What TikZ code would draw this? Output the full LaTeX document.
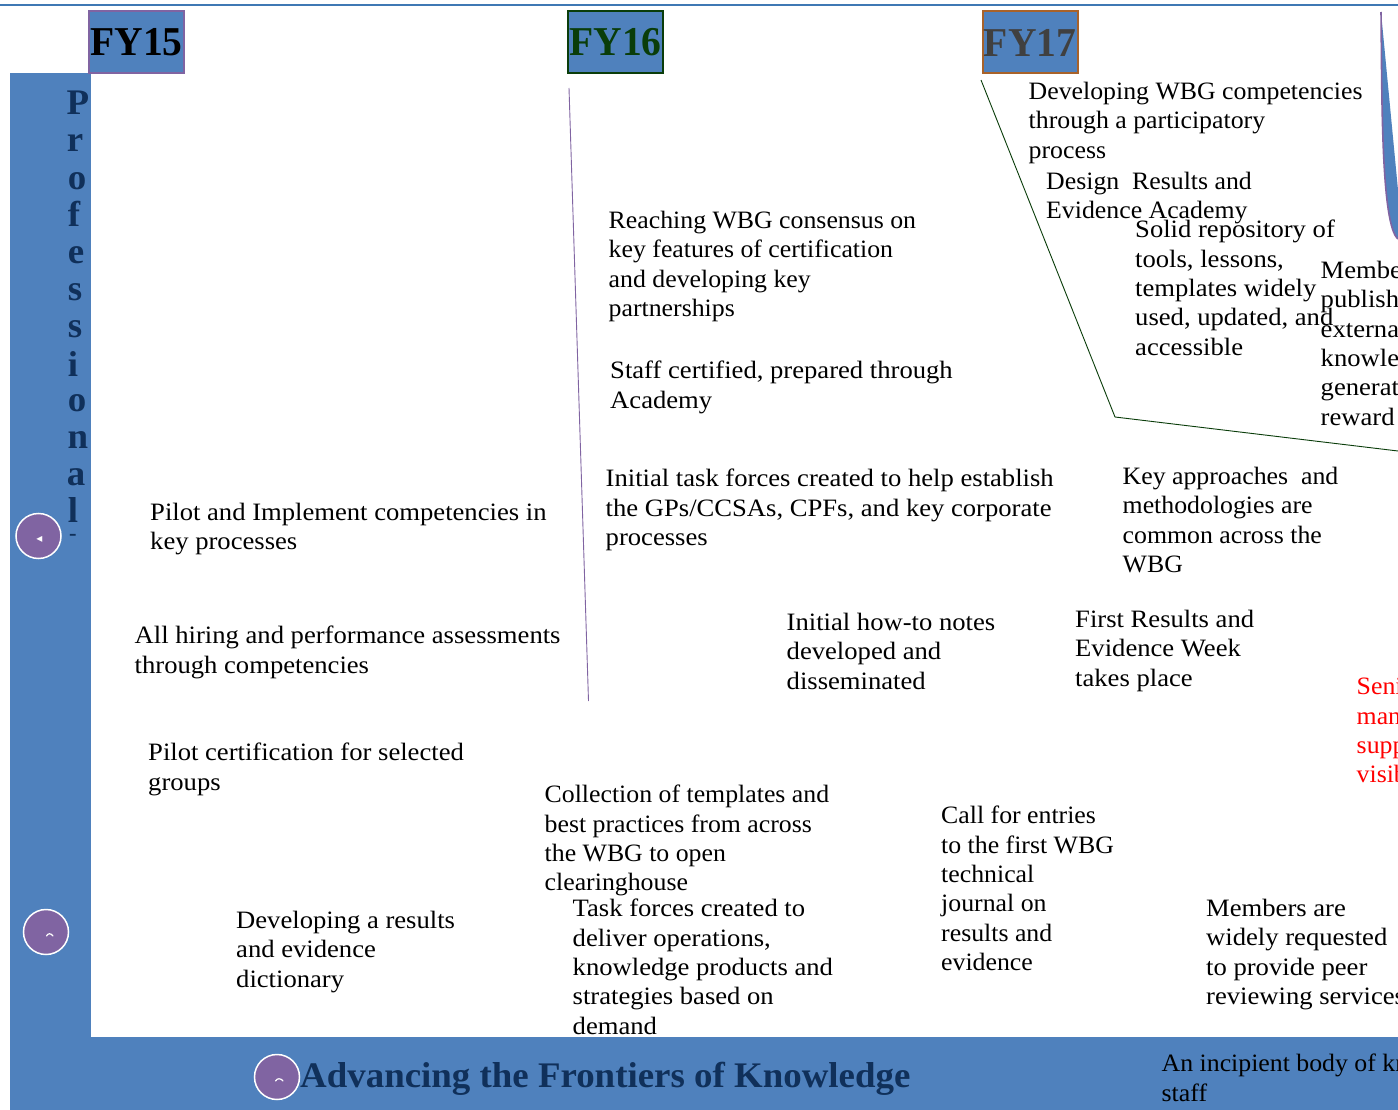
\documentclass[tikz,border=0pt]{standalone}
\usepackage{fontspec}
\setmainfont[FakeStretch=1.065]{Liberation Serif}
\newfontfamily\headfont[FakeStretch=0.965]{Liberation Serif}
\newfontfamily\wordfont[FakeStretch=1.025]{Liberation Serif}
\newfontfamily\narfont[FakeStretch=1.032]{Liberation Serif}
\newfontfamily\symfont{DejaVu Sans}
\definecolor{bluefill}{HTML}{4F81BD}
\definecolor{topline}{HTML}{3F78B4}
\definecolor{purp}{HTML}{8064A2}
\definecolor{navy}{HTML}{10305A}
\definecolor{dgreen}{HTML}{0A3D0A}
\definecolor{dgray}{HTML}{404040}
\definecolor{rustc}{HTML}{A8622A}
\tikzset{
 txt/.style={anchor=north west,inner sep=0pt,align=left,font=\fontsize{25}{29.3}\selectfont},
 ntxt/.style={txt,font=\narfont\fontsize{25}{29.3}\selectfont},
 fybox/.style={draw=#1,line width=2pt,fill=bluefill,minimum width=95pt,minimum height=62pt,inner sep=0pt,font=\headfont\fontsize{41}{44}\selectfont\bfseries},
 badge/.style={circle,draw=white,line width=1.5pt,fill=purp,minimum size=45pt,inner sep=0pt,text=white,font=\symfont\fontsize{11}{11}\selectfont},
 tick/.style={draw=white,line width=1.2pt,line cap=round},
 vletter/.style={inner sep=0pt,text=navy,font=\wordfont\fontsize{36}{36}\selectfont\bfseries}
}
\begin{document}
\begin{tikzpicture}[x=1pt,y=-1pt]
\useasboundingbox (0,0) rectangle (1398,1110);
\clip (0,0) rectangle (1398,1110);
\fill[white] (0,0) rectangle (1398,1110);
\draw[topline,line width=1.6pt] (0,5) -- (1398,5);
\fill[bluefill] (10,73) rectangle (91,1110);
\fill[bluefill] (10,1037) rectangle (1398,1110);
% FY boxes
\node[fybox=purp] (fy15) at (136.5,42.5) {\textcolor{black}{FY15}};
\node[fybox=dgreen] (fy16) at (615.5,42.5) {\textcolor{dgreen}{FY16}};
\node[fybox=rustc] (fy17) at (1030,42.5) {\textcolor{dgray}{FY17}};
% vertical word
\foreach \c/\x/\y in {P/78/103,r/75/143,o/77/181,f/74/214,e/76/255,s/75/292,s/75/329,i/73/364,o/77/403,n/78/440,a/76/477,l/73/510}
  \node[vletter] at (\x,\y) {\c};
\node[vletter,font=\wordfont\fontsize{22}{22}\selectfont\bfseries] at (73,537) {-};
% lines
\coordinate (pa) at (569,88); \coordinate (pb) at (588.5,701);
\draw[purp,line width=.9pt] (pa) -- (pb);
\coordinate (ga) at (981,80); \coordinate (gb) at (1115,417); \coordinate (gc) at (1398,451);
\draw[dgreen,line width=.9pt] (ga) -- (gb) -- (gc);
% blue sliver
\fill[bluefill] (1381,12) .. controls (1382,100) and (1381,225) .. (1398,239) -- (1398,190) -- cycle;
\draw[purp,line width=1.6pt] (1381,12) .. controls (1382,100) and (1381,225) .. (1398,239);
% badges
\node[badge] (b1) at (38.5,536) {};
\node[txt,text=white,inner sep=0pt,anchor=center,font=\symfont\fontsize{12}{12}\selectfont] (b1g) at (39.5,539) {◂};
\node[badge] (b2) at (46,932) {};
\draw[tick] (46.5,936) .. controls (48,933) and (51,933) .. (53,936);
\node[badge] (b3) at (277,1077) {};
\draw[tick] (275.5,1081) .. controls (277,1078) and (281,1078) .. (283,1081);
% texts
\node[ntxt] (t1) at (1028.5,82) {Developing WBG competencies\\through a participatory\\process};
\node[ntxt] (t2) at (1046,172) {Design\ \ Results and\\Evidence Academy};
\node[txt] (t3) at (1135,220) {Solid repository of\\tools, lessons,\\templates widely\\used, updated, and\\accessible};
\node[txt] (t4) at (1320.5,261) {Membe\\publish\\externa\\knowle\\generat\\reward};
\node[ntxt] (t5) at (608.5,211) {Reaching WBG consensus on\\key features of certification\\and developing key\\partnerships};
\node[txt] (t6) at (610,361) {Staff certified, prepared through\\Academy};
\node[txt] (t7) at (605.5,469) {Initial task forces created to help establish\\the GPs/CCSAs, CPFs, and key corporate\\processes};
\node[ntxt] (t8) at (1122.5,467) {Key approaches\ \ and\\methodologies are\\common across the\\WBG};
\node[txt] (t9) at (150,503) {Pilot and Implement competencies in\\key processes};
\node[txt] (t10) at (134.5,626) {All hiring and performance assessments\\through competencies};
\node[txt] (t11) at (786.5,613) {Initial how-to notes\\developed and\\disseminated};
\node[txt] (t12) at (1075,610) {First Results and\\Evidence Week\\takes place};
\node[ntxt,text=red] (t13) at (1356.5,678) {Seni\\man\\supp\\visib};
\node[txt] (t14) at (148,743) {Pilot certification for selected\\groups};
\node[ntxt] (t15) at (544.5,785) {Collection of templates and\\best practices from across\\the WBG to open\\clearinghouse};
\node[ntxt] (t16) at (941,806) {Call for entries\\to the first WBG\\technical\\journal on\\results and\\evidence};
\node[txt] (t17) at (572.5,899) {Task forces created to\\deliver operations,\\knowledge products and\\strategies based on\\demand};
\node[txt] (t18) at (236,911) {Developing a results\\and evidence\\dictionary};
\node[txt] (t19) at (1206,899) {Members are\\widely requested\\to provide peer\\reviewing services};
\node[ntxt] (t20) at (1161.5,1054) {An incipient body of kn\\staff};
\node[inner sep=0pt,anchor=west,text=navy,font=\wordfont\fontsize{36}{36}\selectfont\bfseries] (t21) at (300,1079) {Advancing the Frontiers of Knowledge};
\end{tikzpicture}
\end{document}
